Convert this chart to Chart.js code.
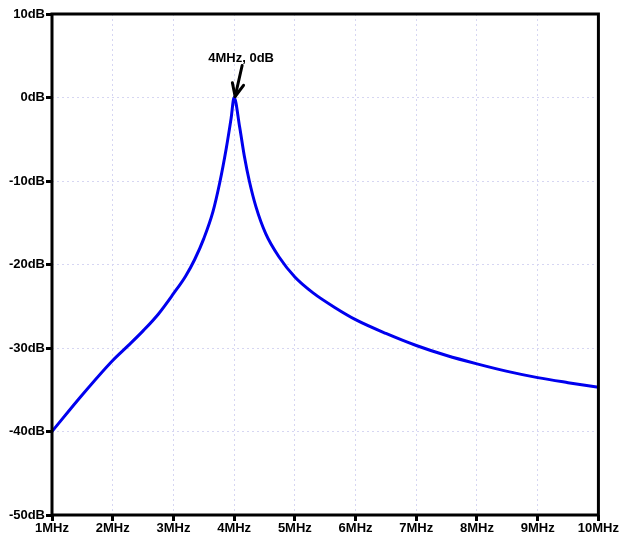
<!DOCTYPE html>
<html lang="en">
  <head>
    <meta charset="UTF-8" />
    <title>frequency response</title>
    <script src="https://cdn.jsdelivr.net/npm/chart.js"></script>
    <style>
      html, body { margin: 0; padding: 0; background: #fff; }
      #wrap { width: 619px; height: 539px; }
    </style>
  </head>
  <body>
    <div id="wrap"><canvas id="resp"></canvas></div>
    <script>
      // frequency in MHz, magnitude in dB
      const freqMHz = [1.0, 1.5, 2.0, 2.25, 2.5, 2.75, 3.0, 3.2, 3.35, 3.5, 3.65, 3.76, 3.87, 3.95, 4.0,
                       4.09, 4.17, 4.25, 4.36, 4.52, 4.74, 5.0, 5.3, 5.67, 6.0, 6.5, 7.0, 7.5, 8.0, 8.5, 9.0, 9.5, 10.0];
      const gainDb = [-40.0, -35.6, -31.5, -29.75, -27.95, -25.95, -23.5, -21.4, -19.4, -16.9, -13.7, -10.3, -6.1, -2.5, 0.0,
                      -3.5, -7.1, -10.0, -13.1, -16.3, -19.1, -21.5, -23.4, -25.2, -26.6, -28.25, -29.7, -30.9, -31.9, -32.8, -33.55, -34.15, -34.7];
      const yTicks = [10, 0, -10, -20, -30, -40, -50];
      const marker = { x: 4, y: 0, label: "4MHz, 0dB" };

      const font = { family: "Arial, 'Liberation Sans', sans-serif", size: 13, weight: "bold" };

      // black box round the plot area
      const frame = {
        id: "frame",
        afterDraw(chart) {
          const { ctx, chartArea: a } = chart;
          ctx.save();
          ctx.strokeStyle = "#000";
          ctx.lineWidth = 3;
          ctx.strokeRect(a.left, a.top, a.right - a.left, a.bottom - a.top);
          ctx.restore();
        },
      };

      // text + arrow pointing at the peak
      const peakNote = {
        id: "peakNote",
        afterDraw(chart) {
          const { ctx, scales } = chart;
          const px = scales.x.getPixelForValue(marker.x);
          const py = scales.y.getPixelForValue(marker.y);
          ctx.save();
          ctx.fillStyle = "#000";
          ctx.strokeStyle = "#000";
          ctx.font = "bold 13px Arial, 'Liberation Sans', sans-serif";
          ctx.textAlign = "center";
          ctx.textBaseline = "middle";
          ctx.fillText(marker.label, px + 7, py - 39);
          const x0 = px + 8, y0 = py - 32, x1 = px + 1, y1 = py - 1;
          ctx.lineWidth = 3;
          ctx.lineCap = "round";
          ctx.beginPath();
          ctx.moveTo(x0, y0);
          ctx.lineTo(x1, y1);
          ctx.stroke();
          const ang = Math.atan2(y1 - y0, x1 - x0);
          const len = 14;
          ctx.beginPath();
          ctx.moveTo(x1, y1);
          ctx.lineTo(x1 - len * Math.cos(ang - 0.42), y1 - len * Math.sin(ang - 0.42));
          ctx.moveTo(x1, y1);
          ctx.lineTo(x1 - len * Math.cos(ang + 0.42), y1 - len * Math.sin(ang + 0.42));
          ctx.stroke();
          ctx.restore();
        },
      };

      new Chart(document.getElementById("resp"), {
        type: "line",
        data: {
          datasets: [
            {
              data: freqMHz.map((f, i) => ({ x: f, y: gainDb[i] })),
              borderColor: "#0000ee",
              borderWidth: 3,
              pointRadius: 0,
              cubicInterpolationMode: "monotone",
              fill: false,
            },
          ],
        },
        options: {
          responsive: true,
          maintainAspectRatio: false,
          animation: false,
          layout: { padding: { top: 14, right: 19, left: 0, bottom: 0 } },
          plugins: { legend: { display: false }, tooltip: { enabled: false } },
          scales: {
            x: {
              type: "linear",
              min: 1,
              max: 10,
              afterFit(s) { s.height = 24; },
              ticks: { stepSize: 1, color: "#000", font, padding: 0, maxRotation: 0, callback: (v) => v + "MHz" },
              grid: { color: "#d6d6f2", lineWidth: 1, tickLength: 6, tickColor: "#000", tickWidth: 3 },
              border: { display: false, dash: [2, 3] },
            },
            y: {
              min: -50,
              max: 10,
              afterFit(s) { s.width = 52; },
              afterBuildTicks(s) { s.ticks = yTicks.map((v) => ({ value: v })); },
              ticks: { color: "#000", font, padding: 1, callback: (v) => v + "dB" },
              grid: { color: "#d6d6f2", lineWidth: 1, tickLength: 6, tickColor: "#000", tickWidth: 3 },
              border: { display: false, dash: [2, 3] },
            },
          },
        },
        plugins: [frame, peakNote],
      });
    </script>
  </body>
</html>
